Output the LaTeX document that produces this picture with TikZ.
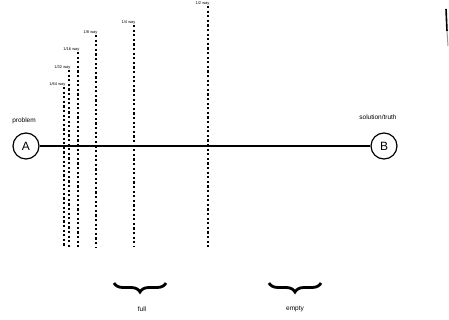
\documentclass[tikz,border=0pt]{standalone}
\usepackage{fontspec}
\setmainfont{Liberation Sans}
\usetikzlibrary{decorations.pathreplacing}

\tikzset{
    pt/.style={draw,circle,minimum size=26pt,inner sep=0pt,line width=1.2pt,font=\fontsize{12}{13}\selectfont},
    small/.style={font=\fontsize{6.5}{7}\selectfont,inner sep=0pt},
    waylab/.style={font=\fontsize{4}{5}\selectfont,inner sep=0.4pt,anchor=south east},
    cut/.style={dashed,dash pattern=on 2.2pt off 2.4pt,line width=1.1pt},
    brc/.style={decorate,decoration={brace,mirror,amplitude=9pt},line width=2.8pt}
}

\begin{document}
\begin{tikzpicture}[x=1pt,y=-1pt]
    \useasboundingbox (0,0) rectangle (449,320);
    %
    \node[pt] (A) at (26,146) {A};
    \node[pt] (B) at (384,146) {B};
    \node[small] (prob) at (24,121) {problem};
    \node[small] (sol) at (378,117) {solution/truth};
    \draw[line width=1.3pt] (A) -- (B);
    %
    \foreach \i/\x/\t/\lab in {1/208/6/{1/2 way},2/134/25/{1/4 way},3/96/35/{1/8 way},
                              4/78/52/{1/16 way},5/69/70/{1/32 way},6/64/87/{1/64 way}} {
        \coordinate (T\i) at (\x,\t);
        \coordinate (D\i) at (\x,247);
        \draw[cut] (T\i) -- (D\i);
        \node[waylab] (L\i) at ([xshift=2pt]T\i) {\lab};
    }
    %
    \coordinate (F1) at (114,283);
    \coordinate (F2) at (166,283);
    \coordinate (E1) at (269,283);
    \coordinate (E2) at (321,283);
    \draw[brc] (F1) -- (F2);
    \draw[brc] (E1) -- (E2);
    \node[small] (full) at (142,309) {full};
    \node[small] (empty) at (295,309) {empty};
    %
    \draw[line width=1.6pt] (446,9) -- (447,31);
    \draw[line width=1pt,black!40] (447,31) -- (448,46);
\end{tikzpicture}
\end{document}
